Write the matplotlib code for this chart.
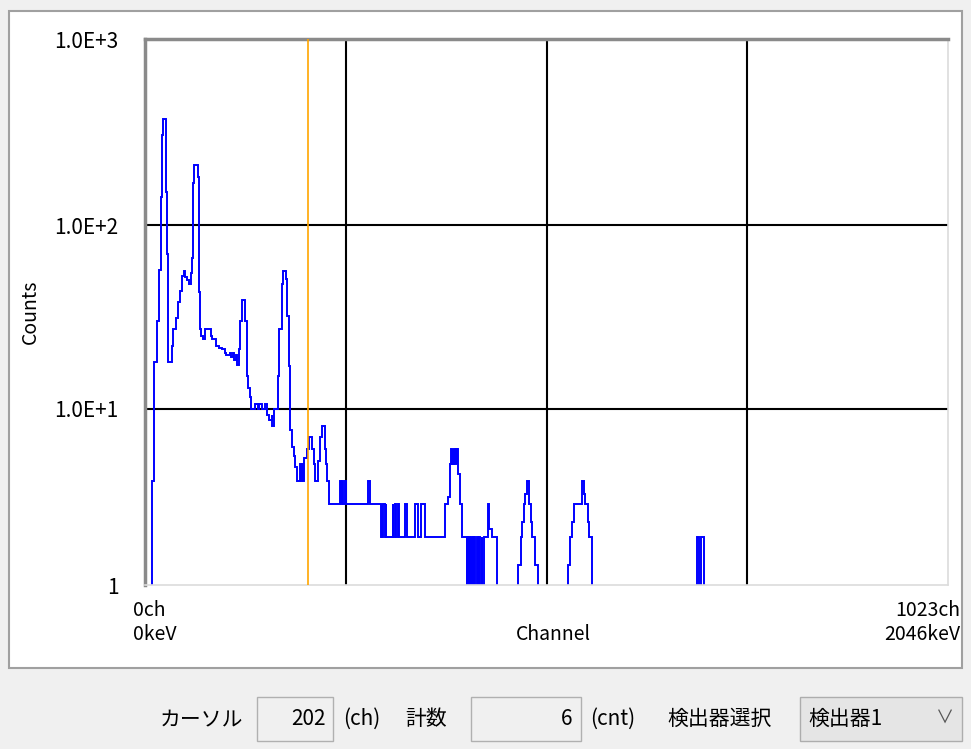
import numpy as np
import matplotlib
matplotlib.use("Agg")
import matplotlib.pyplot as plt
from matplotlib.patches import Rectangle
from matplotlib.ticker import NullLocator

plt.rcParams['font.family'] = ['Noto Sans CJK JP', 'DejaVu Sans']

# spectrum, run-length: channel where a run starts and its counts
seg_ch = [0, 2, 5, 9, 11, 14, 16, 17, 20, 22, 23, 28, 30, 33, 36, 38, 41, 43, 45, 48,
          50, 52, 54, 55, 57, 61, 63, 64, 65, 68, 71, 78, 80, 85, 88, 92, 96, 98, 102, 104,
          106, 108, 110, 112, 114, 116, 118, 122, 124, 126, 128, 130, 134, 138, 140, 144, 148, 150, 153, 156,
          157, 159, 164, 166, 169, 171, 174, 176, 178, 180, 182, 184, 186, 188, 192, 193, 195, 196, 198, 201,
          204, 208, 210, 212, 215, 218, 221, 224, 226, 227, 230, 243, 245, 246, 248, 250, 251, 279, 282, 296,
          297, 298, 299, 301, 302, 303, 311, 312, 314, 316, 318, 319, 327, 329, 340, 344, 348, 352, 378, 382,
          384, 386, 387, 388, 389, 390, 391, 392, 393, 394, 395, 398, 400, 406, 407, 408, 409, 410, 412, 413,
          414, 415, 416, 417, 419, 420, 422, 423, 425, 426, 428, 433, 435, 439, 445,
          472, 475, 477, 479, 481, 483, 486, 488, 490, 493, 497,
          536, 538, 541, 543, 554, 556, 558, 561, 563, 567,
          701, 704, 707, 710]
seg_cnt = [0, 4, 18, 30, 57, 143, 310, 378, 152, 70, 18, 22, 27, 31, 38, 44, 53, 56, 52, 50,
           48, 55, 66, 170, 212, 184, 43, 27, 25, 24, 27, 25, 24, 22, 21.5, 21, 20, 19.5, 20, 19,
           20, 18.5, 19.5, 17.3, 21, 30, 39, 30, 15, 13, 11.6, 10, 10.6, 10, 10.6, 10, 10.6, 9.2, 8.7, 9.2,
           8, 10, 15, 27, 48, 56, 51, 32, 17, 7.6, 6.2, 5.5, 4.8, 4, 5, 4, 5, 4, 5.4, 6,
           7, 6, 5, 4, 5.2, 7, 8, 6, 5, 4, 3, 4, 3, 4, 3, 4, 3, 4, 3, 2,
           3, 2, 3, 2, 3, 2, 3, 2, 3, 2, 3, 2, 3, 2, 3, 2, 3, 2, 3, 3.3,
           5, 6, 5, 6, 5, 6, 5, 6, 5, 6, 4.4, 3, 2, 0, 2, 0, 2, 0, 2, 0,
           2, 1, 2, 1, 2, 1, 2, 1, 2, 1, 2, 3, 2.2, 2, 0,
           1.4, 2, 2.4, 3, 3.4, 4, 3, 2.4, 2, 1.4, 0,
           1.4, 2, 2.4, 3, 4, 3.4, 3, 2.4, 2, 0,
           2, 0, 2, 0]
last_ch = 1024

x_range = [-6.4, 1023]
grid_frac = [0.25, 0.5, 0.75]
grid_counts = [10, 100]
y_ticks = [1.09, 10, 100, 1037]
y_labels = ['1', '1.0E+1', '1.0E+2', '1.0E+3']
cursor_ch = 202
cursor_cnt = 6
detector = '検出器1'

fig = plt.figure(figsize=(9.71, 7.49), dpi=100, facecolor='#f0f0f0')

# background layer in pixel coordinates
bg = fig.add_axes([0, 0, 1, 1], zorder=0)
bg.set_xlim(0, 971)
bg.set_ylim(749, 0)
bg.axis('off')
bg.add_patch(Rectangle((9, 11), 953, 657, facecolor='white', edgecolor='#a0a0a0', lw=1.5))

# spectrum axes
ax = fig.add_axes([145 / 971, 1 - 585 / 749, 803 / 971, 546 / 749], zorder=1)
ax.set_facecolor('white')
ax.set_yscale('log')
ax.set_xlim(*x_range)
ax.set_ylim(y_ticks[0], y_ticks[-1])

for f in grid_frac:
    ax.axvline(x_range[0] + f * (x_range[1] - x_range[0]), color='black', lw=1.5, zorder=1)
for c in grid_counts:
    ax.axhline(c, color='black', lw=1.5, zorder=1)

edges = np.array(seg_ch + [last_ch], dtype=float)
ax.stairs(seg_cnt, edges, baseline=None, color='#0000ff', lw=1.4, zorder=2)
ax.axvline(cursor_ch, color='#ffa500', lw=1.2, zorder=3)

ax.set_xticks([])
ax.set_yticks(y_ticks, labels=y_labels)
ax.yaxis.set_minor_locator(NullLocator())
ax.tick_params(axis='y', length=0, pad=19, labelsize=15)
for side in ['left', 'top']:
    ax.spines[side].set_color('#8a8a8a')
    ax.spines[side].set_linewidth(2.5)
for side in ['right', 'bottom']:
    ax.spines[side].set_color('#dcdcdc')
    ax.spines[side].set_linewidth(1.2)

# axis texts
bg.text(30, 312, 'Counts', rotation=90, ha='center', va='center', fontsize=14)
bg.text(553, 635, 'Channel', ha='center', va='center', fontsize=14)
bg.text(133, 610, '0ch', ha='left', va='center', fontsize=14)
bg.text(133, 635, '0keV', ha='left', va='center', fontsize=14)
bg.text(960, 610, '1023ch', ha='right', va='center', fontsize=14)
bg.text(960, 635, '2046keV', ha='right', va='center', fontsize=14)

# bottom controls
yc = 719
bg.text(243, yc, 'カーソル', ha='right', va='center', fontsize=15)
bg.add_patch(Rectangle((257, 697), 76, 44, facecolor='#f0f0f0', edgecolor='#b0b0b0', lw=1))
bg.text(326, yc, str(cursor_ch), ha='right', va='center', fontsize=15)
bg.text(343, yc, '(ch)', ha='left', va='center', fontsize=15)
bg.text(405, yc, '計数', ha='left', va='center', fontsize=15)
bg.add_patch(Rectangle((471, 697), 110, 44, facecolor='#f0f0f0', edgecolor='#b0b0b0', lw=1))
bg.text(572, yc, str(cursor_cnt), ha='right', va='center', fontsize=15)
bg.text(590, yc, '(cnt)', ha='left', va='center', fontsize=15)
bg.text(667, yc, '検出器選択', ha='left', va='center', fontsize=15)
bg.add_patch(Rectangle((800, 697), 162, 44, facecolor='#e5e5e5', edgecolor='#adadad', lw=1))
bg.text(808, yc, detector, ha='left', va='center', fontsize=15)
bg.text(945, yc, '∨', ha='center', va='center', fontsize=13, color='#555555')

fig.savefig('out.png', dpi=100, facecolor=fig.get_facecolor())
